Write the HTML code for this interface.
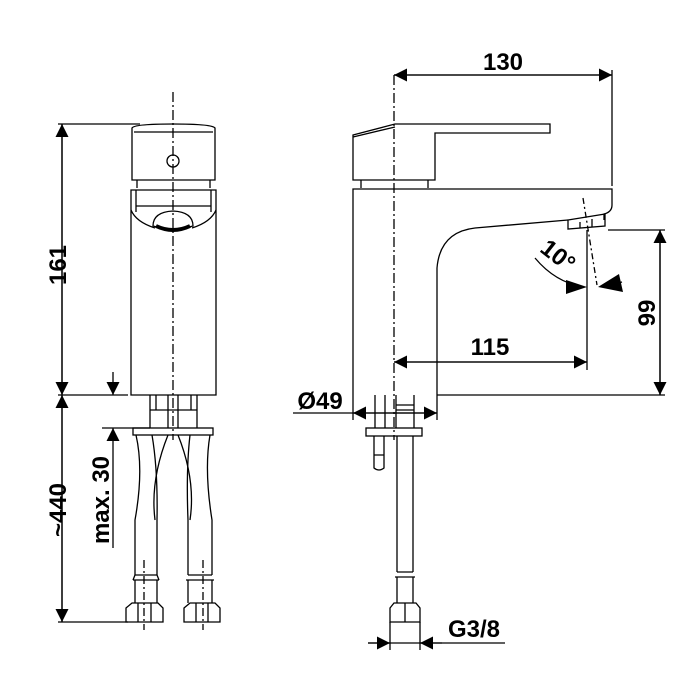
<!DOCTYPE html>
<html><head><style>
html,body{margin:0;padding:0;background:#fff;}
svg{display:block;}
text{font-family:"Liberation Sans",Arial,sans-serif;font-weight:bold;font-size:24px;fill:#000;}
</style></head><body>
<svg width="700" height="700" viewBox="0 0 700 700" xmlns="http://www.w3.org/2000/svg">
<defs>
<marker id="a" viewBox="0 0 10 10" refX="10" refY="5" markerWidth="22" markerHeight="13" markerUnits="userSpaceOnUse" orient="auto"><path d="M0,0 L10,5 L0,10 z" fill="#000"/></marker>
</defs>
<g stroke="#000" stroke-width="1.3" fill="none">
<!-- LEFT VIEW -->
<line x1="173" y1="92" x2="173" y2="440" stroke-dasharray="10,3,2,3"/>
<path d="M132,128 Q134,124 173,124 Q212,124 215,128 L215,180 L132,180 Z"/>
<line x1="134" y1="132" x2="213" y2="132"/>
<circle cx="173" cy="161" r="6"/>
<line x1="137" y1="180" x2="137" y2="188"/><line x1="210" y1="180" x2="210" y2="188"/>
<path d="M131,395 L131,190 L216,190 L216,395 Z"/>
<line x1="136" y1="190" x2="136" y2="212"/><line x1="211" y1="190" x2="211" y2="212"/>
<line x1="136" y1="206" x2="211" y2="206"/>
<path d="M131,210 Q136,222 155,228 M216,210 Q211,222 192,228"/>
<path d="M153,226 Q153,212 173,211 Q193,212 193,226 Q173,232 153,226 Z"/>
<path d="M156,226 Q173,234 190,226" stroke-width="4"/>
<!-- under left -->
<path d="M150,395 L150,428 M197,395 L197,428 M150,410 L197,410 M156,395 L156,410 M191,395 L191,410 M168,395 L168,428 M178,395 L178,428"/>
<rect x="133" y="428" width="80" height="7"/>
<path d="M136,435 Q144,470 135,520 L135,575 M152,435 Q158,470 157,520 L157,575"/>
<path d="M168,435 Q150,480 155,520 M178,435 Q196,480 190,520"/>
<path d="M190,435 Q186,470 188,520 L188,575 M210,435 Q204,470 212,520 L212,575"/>
<path d="M135,575 L157,575 M133,580 L159,580 M135,575 L133,580 M157,575 L159,580 M135,580 L135,603 M157,580 L157,603"/>
<path d="M188,575 L212,575 M186,580 L214,580 M188,580 L188,603 M212,580 L212,603"/>
<path d="M126,608 L132,603 L158,603 L163,608 L163,622 L126,622 Z M138,603 L138,622 M151,603 L151,622"/>
<path d="M184,608 L190,603 L215,603 L220,608 L220,622 L184,622 Z M196,603 L196,622 M208,603 L208,622"/>
<line x1="144" y1="560" x2="144" y2="630" stroke-dasharray="8,3,2,3"/>
<line x1="203" y1="560" x2="203" y2="630" stroke-dasharray="8,3,2,3"/>
<!-- left dims -->
<line x1="58" y1="124" x2="140" y2="124"/>
<line x1="58" y1="395" x2="128" y2="395"/>
<line x1="58" y1="622" x2="128" y2="622"/>
<line x1="102" y1="428" x2="150" y2="428"/>
<line x1="62" y1="395" x2="62" y2="124" marker-end="url(#a)"/>
<line x1="62" y1="124" x2="62" y2="395" marker-end="url(#a)"/>
<line x1="62" y1="622" x2="62" y2="395" marker-end="url(#a)"/>
<line x1="62" y1="395" x2="62" y2="622" marker-end="url(#a)"/>
<line x1="113" y1="372" x2="113" y2="395" marker-end="url(#a)"/>
<line x1="113" y1="548" x2="113" y2="428" marker-end="url(#a)"/>
<!-- RIGHT VIEW -->
<line x1="394" y1="75" x2="394" y2="440" stroke-dasharray="10,3,2,3"/>
<path d="M353,135 L395,124 L550,124 L550,133 L435,133 L435,180 L353,180 Z"/>
<path d="M353,137 L395,127"/>
<line x1="361" y1="180" x2="361" y2="188"/><line x1="428" y1="180" x2="428" y2="188"/>
<path d="M353,395 L353,189 L612,189 L612,205 Q612,212 604,214 L604,220"/>
<path d="M437,395 L437,268 Q440,232 475,228 L568,220"/>
<path d="M568,220 L605,214 L605,226 L568,229 Z M580,222 L580,228 M592,219 L592,227"/>
<line x1="437" y1="395" x2="665" y2="395"/>
<line x1="612" y1="70" x2="612" y2="186"/>
<line x1="608" y1="230" x2="665" y2="230"/>
<line x1="587" y1="230" x2="587" y2="370"/>
<line x1="583" y1="198" x2="597" y2="285" stroke-dasharray="6,3,2,3"/>
<path d="M535,258 Q555,282 583,287"/>
<path d="M604,287 L622,282"/>
<polygon points="566,280 587,287 566,294" fill="#000" stroke="none"/>
<polygon points="619,274 598,287 623,292" fill="#000" stroke="none"/>
<line x1="394" y1="75" x2="612" y2="75" marker-end="url(#a)"/>
<line x1="612" y1="75" x2="394" y2="75" marker-end="url(#a)"/>
<line x1="394" y1="362" x2="587" y2="362" marker-end="url(#a)"/>
<line x1="587" y1="362" x2="394" y2="362" marker-end="url(#a)"/>
<line x1="660" y1="395" x2="660" y2="230" marker-end="url(#a)"/>
<line x1="660" y1="230" x2="660" y2="395" marker-end="url(#a)"/>
<!-- under right -->
<line x1="353" y1="395" x2="353" y2="420"/><line x1="437" y1="395" x2="437" y2="420"/>
<line x1="293" y1="413" x2="437" y2="413"/>
<line x1="395" y1="413" x2="353" y2="413" marker-end="url(#a)"/>
<line x1="395" y1="413" x2="437" y2="413" marker-end="url(#a)"/>
<path d="M375,395 L375,428 M385,395 L385,428 M396,395 L396,428 M414,395 L414,428 M396,405 L414,405 M396,410 L414,410"/>
<rect x="366" y="428" width="56" height="8"/>
<path d="M374,436 L374,468 Q379,472 384,468 L384,436 M374,455 L384,455"/>
<path d="M397,436 L397,572 M413,436 L413,572 M397,572 L413,572 M395,577 L415,577 M397,577 L397,603 M413,577 L413,603"/>
<path d="M390,608 L394,603 L416,603 L420,608 L420,622 L390,622 Z M405,603 L405,622"/>
<line x1="390" y1="622" x2="390" y2="650"/><line x1="420" y1="622" x2="420" y2="650"/>
<line x1="368" y1="643" x2="505" y2="643"/>
<line x1="368" y1="643" x2="390" y2="643" marker-end="url(#a)"/>
<line x1="442" y1="643" x2="420" y2="643" marker-end="url(#a)"/>
</g>
<text x="503" y="70" text-anchor="middle">130</text>
<text x="490" y="355" text-anchor="middle">115</text>
<text x="320" y="409" text-anchor="middle">Ø49</text>
<text x="474" y="637" text-anchor="middle">G3/8</text>
<text transform="translate(66,265) rotate(-90)" text-anchor="middle">161</text>
<text transform="translate(66,510) rotate(-90)" text-anchor="middle">~440</text>
<text transform="translate(109,500) rotate(-90)" text-anchor="middle">max. 30</text>
<text transform="translate(655,313) rotate(-90)" text-anchor="middle">99</text>
<text transform="translate(553,262) rotate(38)" text-anchor="middle">10°</text>
</svg>
</body></html>
